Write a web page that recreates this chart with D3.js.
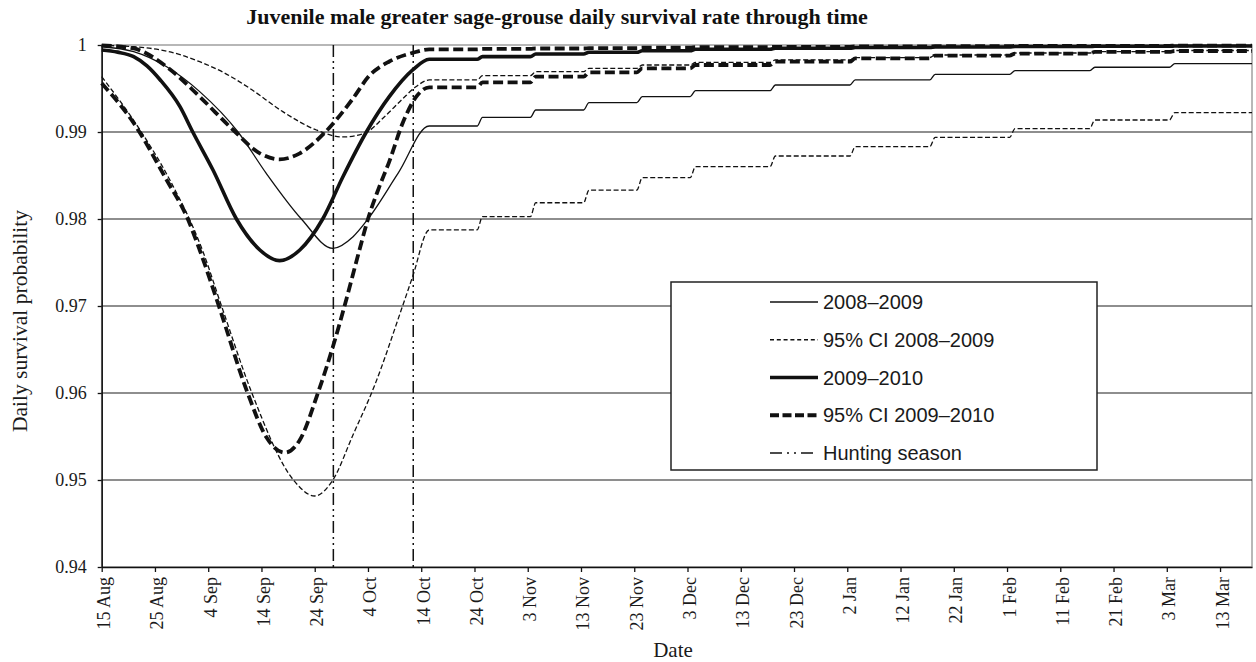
<!DOCTYPE html>
<html>
<head>
<meta charset="utf-8">
<script src="https://cdn.jsdelivr.net/npm/d3@7"></script>
<style>
  body { margin: 0; background: #fff; }
</style>
</head>
<body>
<div id="chart"></div>
<script>
const WIDTH = 1256;
const HEIGHT = 662;
const PLOT = { left: 101.7, right: 1252, top: 45, bottom: 567 };

// x values are days since 15 Aug
const tickDays = [0, 10, 20, 30, 40, 50, 60, 70, 80, 90, 100, 110, 120, 130, 140, 150, 160, 170, 180, 190, 200, 210];
const tickLabels = ["15 Aug", "25 Aug", "4 Sep", "14 Sep", "24 Sep", "4 Oct", "14 Oct", "24 Oct", "3 Nov", "13 Nov",
    "23 Nov", "3 Dec", "13 Dec", "23 Dec", "2 Jan", "12 Jan", "22 Jan", "1 Feb", "11 Feb", "21 Feb", "3 Mar", "13 Mar"];
const yTicks = [0.94, 0.95, 0.96, 0.97, 0.98, 0.99, 1];
const huntingDays = [43.5, 58.5];

// after mid October the estimates are flat with small steps
const plateauStart = [61.5, 71.5, 81.5, 91.5, 101.5, 111.5, 126.5, 141.5, 156.5, 171.5, 186.5, 201.5];
const plateauEnd = [70.5, 80.5, 90.5, 100.5, 110.5, 125.5, 140.5, 155.5, 170.5, 185.5, 200.5, 216];

// 2008-2009
const mean0809Dip = [[0, 0.9998], [6, 0.99923], [12.2, 0.9975], [18.4, 0.99464], [25.6, 0.99], [30.9, 0.98525],
    [37.5, 0.98], [43.4, 0.97663], [47.2, 0.97797], [50, 0.98], [55.7, 0.9853]];
const mean0809Steps = [0.99069, 0.99169, 0.99253, 0.99337, 0.99406, 0.99475, 0.9954, 0.99598, 0.99663, 0.99705, 0.99744, 0.99785];

const lo0809Dip = [[0, 0.99636], [7.2, 0.99023], [12.8, 0.98448], [18.9, 0.97644], [22.5, 0.97], [28.2, 0.96],
    [36, 0.95], [40, 0.94816], [43.4, 0.95], [47.2, 0.9552], [51.2, 0.9608], [56.5, 0.97], [58.4, 0.9734]];
const lo0809Steps = [0.97874, 0.98027, 0.98187, 0.98333, 0.98475, 0.98601, 0.98724, 0.98831, 0.98939, 0.99038, 0.99138, 0.99222];

const hi0809Dip = [[0, 0.99995], [6, 0.9998], [12.2, 0.9993], [18.4, 0.99808], [23, 0.9968], [27.8, 0.99502],
    [34, 0.99234], [40.3, 0.99023], [45.3, 0.98943], [49.5, 0.9899], [53, 0.9917], [56.5, 0.9938], [59, 0.9952]];
const hi0809Steps = [0.99598, 0.99647, 0.99693, 0.99732, 0.9977, 0.99801, 0.99828, 0.99856, 0.99885, 0.99908, 0.99925, 0.99937];

// 2009-2010
const mean0910Dip = [[0, 0.99943], [3, 0.99918], [6, 0.99866], [8.5, 0.9976], [11, 0.99598], [14.7, 0.99291],
    [17.1, 0.99], [20.9, 0.98563], [25.3, 0.98], [29.7, 0.97644], [33.4, 0.97521], [37.2, 0.97644], [41.5, 0.98],
    [45.3, 0.98486], [49.7, 0.99], [54, 0.99406], [58.4, 0.99713]];
const mean0910Steps = [0.99836, 0.99866, 0.99897, 0.99916, 0.99934, 0.99951, 0.99962, 0.99971, 0.99977, 0.99982, 0.99985, 0.99989];

const lo0910Dip = [[0, 0.9956], [6, 0.99103], [12.2, 0.98448], [16, 0.98023], [18.4, 0.97644], [22, 0.97],
    [27.4, 0.96], [30.9, 0.95494], [34.4, 0.95314], [37.2, 0.9546], [40.6, 0.96], [43.4, 0.96529], [45.6, 0.97],
    [48.4, 0.97644], [50, 0.98], [52, 0.9835], [54, 0.9866], [56.5, 0.991], [59, 0.994]];
const lo0910Steps = [0.99514, 0.99571, 0.99636, 0.99686, 0.99732, 0.9977, 0.99808, 0.99847, 0.99879, 0.99902, 0.9992, 0.99931];

const hi0910Dip = [[0, 0.99995], [6, 0.9996], [12.2, 0.9975], [18.4, 0.99406], [24.7, 0.99023], [29.7, 0.98755],
    [33.4, 0.98686], [37.2, 0.98755], [42, 0.99], [47, 0.9937], [50.3, 0.9965], [54, 0.9981], [58.4, 0.9991]];
const hi0910Steps = [0.9995, 0.99955, 0.9996, 0.99965, 0.9997, 0.99975, 0.99979, 0.99983, 0.99986, 0.99989, 0.99991, 0.99993];

const seriesNames = ["2008–2009", "95% CI 2008–2009", "2009–2010", "95% CI 2009–2010", "Hunting season"];

const STYLE = {
    "2008–2009": { width: 1.3, dash: null, legendDash: null },
    "95% CI 2008–2009": { width: 1.3, dash: "5,2.5", legendDash: "4,2.8" },
    "2009–2010": { width: 3.6, dash: null, legendDash: null },
    "95% CI 2009–2010": { width: 3.8, dash: "10,4.5", legendDash: "9,3.5" },
    "Hunting season": { width: 1.5, dash: "12,4,2,4,2,4", legendDash: "12,5,2,5,2,5,12" }
};

function buildSeries(dip, steps) {
    const pts = dip.slice();
    steps.forEach((v, i) => {
        pts.push([plateauStart[i], v]);
        pts.push([plateauEnd[i], v]);
    });
    return pts;
}

const curves = [
    { name: "95% CI 2008–2009", pts: buildSeries(lo0809Dip, lo0809Steps) },
    { name: "95% CI 2008–2009", pts: buildSeries(hi0809Dip, hi0809Steps) },
    { name: "2008–2009", pts: buildSeries(mean0809Dip, mean0809Steps) },
    { name: "95% CI 2009–2010", pts: buildSeries(lo0910Dip, lo0910Steps) },
    { name: "95% CI 2009–2010", pts: buildSeries(hi0910Dip, hi0910Steps) },
    { name: "2009–2010", pts: buildSeries(mean0910Dip, mean0910Steps) }
];

const svg = d3.select("#chart")
    .append("svg")
    .attr("width", WIDTH)
    .attr("height", HEIGHT)
    .style("font-family", "'Liberation Serif', 'Times New Roman', serif");

const x = d3.scaleLinear().domain([0, 216]).range([PLOT.left, PLOT.right]);
const y = d3.scaleLinear().domain([0.94, 1]).range([PLOT.bottom, PLOT.top]);

// plot frame (gray) and gridlines
svg.append("rect")
    .attr("x", PLOT.left)
    .attr("y", PLOT.top)
    .attr("width", PLOT.right - PLOT.left)
    .attr("height", PLOT.bottom - PLOT.top)
    .attr("fill", "none")
    .attr("stroke", "#a0a0a0")
    .attr("stroke-width", 1.5);

svg.selectAll(".grid")
    .data(yTicks.filter(v => v > 0.94 && v < 1))
    .join("line")
    .attr("class", "grid")
    .attr("x1", PLOT.left)
    .attr("x2", PLOT.right)
    .attr("y1", d => y(d))
    .attr("y2", d => y(d))
    .attr("stroke", "#1e1e1e")
    .attr("stroke-width", 1.1);

// hunting season
svg.selectAll(".hunt")
    .data(huntingDays)
    .join("line")
    .attr("class", "hunt")
    .attr("x1", d => x(d))
    .attr("x2", d => x(d))
    .attr("y1", y(1))
    .attr("y2", y(0.94))
    .attr("stroke", "#111")
    .attr("stroke-width", STYLE["Hunting season"].width)
    .attr("stroke-dasharray", STYLE["Hunting season"].dash);

const line = d3.line()
    .x(d => x(d[0]))
    .y(d => y(d[1]))
    .curve(d3.curveMonotoneX);

svg.selectAll(".series")
    .data(curves)
    .join("path")
    .attr("class", "series")
    .attr("d", d => line(d.pts))
    .attr("fill", "none")
    .attr("stroke", "#111")
    .attr("stroke-width", d => STYLE[d.name].width)
    .attr("stroke-dasharray", d => STYLE[d.name].dash);

// axes
const yAxis = svg.append("g")
    .attr("transform", `translate(${PLOT.left},0)`)
    .call(d3.axisLeft(y).tickValues(yTicks).tickSize(4).tickSizeOuter(0).tickPadding(11)
        .tickFormat(d => d === 1 ? "1" : d.toFixed(2)));
yAxis.select(".domain").attr("stroke", "#111").attr("stroke-width", 1.5);
yAxis.selectAll(".tick line").attr("stroke", "#111").attr("stroke-width", 1.3);
yAxis.selectAll("text")
    .style("font-family", "'Liberation Serif', serif")
    .style("font-size", "18px")
    .attr("fill", "#1a1a1a");

const xAxis = svg.append("g")
    .attr("transform", `translate(0,${PLOT.bottom})`)
    .call(d3.axisBottom(x).tickValues(tickDays).tickSize(5).tickSizeOuter(0)
        .tickFormat((d, i) => tickLabels[i]));
xAxis.select(".domain").attr("stroke", "#111").attr("stroke-width", 1.5);
xAxis.selectAll(".tick line").attr("stroke", "#111").attr("stroke-width", 1.3);
xAxis.selectAll("text")
    .attr("transform", "rotate(-90)")
    .attr("x", -10)
    .attr("y", 8)
    .attr("dy", 0)
    .attr("text-anchor", "end")
    .style("font-family", "'Liberation Serif', serif")
    .style("font-size", "18px")
    .attr("fill", "#1a1a1a");

// titles
svg.append("text")
    .attr("x", 557)
    .attr("y", 24)
    .attr("text-anchor", "middle")
    .style("font-size", "22px")
    .style("font-weight", "bold")
    .attr("fill", "#111")
    .text("Juvenile male greater sage-grouse daily survival rate through time");

svg.append("text")
    .attr("transform", "translate(27,321) rotate(-90)")
    .attr("text-anchor", "middle")
    .style("font-size", "21.5px")
    .attr("fill", "#1a1a1a")
    .text("Daily survival probability");

svg.append("text")
    .attr("x", 673)
    .attr("y", 657)
    .attr("text-anchor", "middle")
    .style("font-size", "21px")
    .attr("fill", "#1a1a1a")
    .text("Date");

// legend
const legend = svg.append("g").attr("transform", "translate(671,282)");
legend.append("rect")
    .attr("width", 426)
    .attr("height", 188)
    .attr("fill", "#fff")
    .attr("stroke", "#222")
    .attr("stroke-width", 1.5);

const rowY = d3.scalePoint().domain(seriesNames).range([20, 171]);

const rows = legend.selectAll(".leg")
    .data(seriesNames)
    .join("g")
    .attr("class", "leg")
    .attr("transform", d => `translate(0,${rowY(d)})`);

rows.append("line")
    .attr("x1", 99)
    .attr("x2", 147)
    .attr("stroke", "#111")
    .attr("stroke-width", d => STYLE[d].width)
    .attr("stroke-dasharray", d => STYLE[d].legendDash);

rows.append("text")
    .attr("x", 152)
    .attr("dy", "0.36em")
    .style("font-family", "'Liberation Sans', Arial, sans-serif")
    .style("font-size", "20px")
    .attr("fill", "#1a1a1a")
    .text(d => d);
</script>
</body>
</html>
